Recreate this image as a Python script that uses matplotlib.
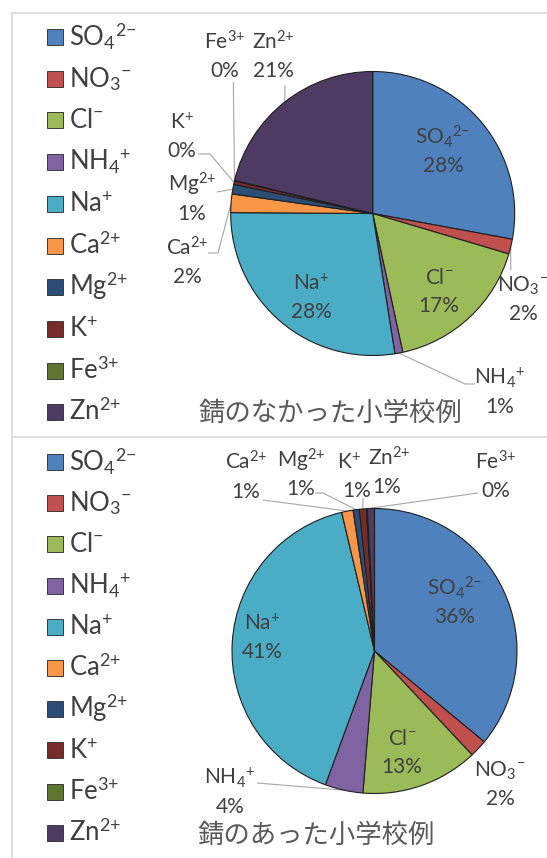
import matplotlib
matplotlib.use("Agg")
import matplotlib.pyplot as plt
from matplotlib.patches import Rectangle
import numpy as np

plt.rcParams["font.family"] = ["Lato", "DejaVu Sans"]
plt.rcParams["mathtext.fontset"] = "custom"
plt.rcParams["mathtext.rm"] = "Lato"
plt.rcParams["mathtext.it"] = "Lato:italic"
plt.rcParams["mathtext.bf"] = "Lato:bold"

# ---- data -------------------------------------------------------------
ions = ["SO$_4$$^{2{-}}$", "NO$_3$$^{{-}}$", "Cl$^{{-}}$", "NH$_4$$^{{+}}$", "Na$^{{+}}$",
        "Ca$^{2{+}}$", "Mg$^{2{+}}$", "K$^{{+}}$", "Fe$^{3{+}}$", "Zn$^{2{+}}$"]
ion_colors = ["#4F81BD", "#C0504D", "#9BBB59", "#8064A2", "#4BACC6",
              "#F79646", "#2C4D75", "#772C2A", "#5F7530", "#4D3B62"]

# ion composition (%) of deposits
no_rust_school = [27.9, 1.7, 17.0, 0.9, 27.6, 2.1, 1.1, 0.4, 0.05, 21.25]
rust_school = [36.0, 2.0, 13.3, 4.3, 40.7, 1.3, 0.7, 0.8, 0.1, 0.8]
titles = ["錆のなかった小学校例", "錆のあった小学校例"]

# ---- canvas (pixel units, y measured from the top) ---------------------
W, H = 547, 858
fig = plt.figure(figsize=(W / 100, H / 100), dpi=100)
ax = fig.add_axes([0, 0, 1, 1])


def Y(y):
    return H - y


TEXT = "#404040"
LEADER = "#A6A6A6"
FRAME = "#D9D9D9"

# label placement per wedge: (x, percent baseline, leader elbow points, name x shift)
panels = [
    dict(values=no_rust_school, title=titles[0], center=(372.7, 213.5), radius=142,
         legend_top=37, legend_step=41.7, title_xy=(330, 412),
         labels=[(443, 172, None, 0),
                 (523, 320, [(510.7, 270)], 0),
                 (439, 312, None, 0),
                 (500, 413, [(465, 384), (475, 384)], 0),
                 (311, 318, None, 0),
                 (187, 283, [(218, 253), (208, 253)], 0),
                 (192, 220, [(217, 192)], 0),
                 (182, 157, [(210, 154), (198, 154)], 0),
                 (225, 77, [(233.3, 82)], 0),
                 (273, 77, [(285, 85)], 0)]),
    dict(values=rust_school, title=titles[1], center=(374.5, 651), radius=142.5,
         legend_top=462, legend_step=41.2, title_xy=(316, 834),
         labels=[(455, 623, None, 0),
                 (500, 805, None, 0),
                 (402, 773, None, 0),
                 (230, 813, [(257, 783)], 0),
                 (262, 658, None, 0),
                 (246, 498, [(263, 500)], 0),
                 (301, 495, [(323, 493), (315, 493)], 0),
                 (357, 497, [(363, 498)], -8),
                 (496, 497, [(478, 493)], 0),
                 (387, 493, None, 2)]),
]

for p in panels:
    vals = np.asarray(p["values"], dtype=float)
    cx, cy = p["center"]
    wedges, _ = ax.pie(vals, colors=ion_colors, startangle=90, counterclock=False,
                       center=(cx, Y(cy)), radius=p["radius"], frame=True,
                       wedgeprops=dict(edgecolor="#1F1F1F", linewidth=0.8))
    for w in wedges:
        w.set_zorder(3)

    pct = vals / vals.sum() * 100
    for i, (w, (lx, lby, elbow, ndx)) in enumerate(zip(wedges, p["labels"])):
        mid = np.deg2rad((w.theta1 + w.theta2) / 2)
        ax_x = w.center[0] + w.r * np.cos(mid)
        ax_y = w.center[1] + w.r * np.sin(mid)
        if elbow:
            xs = [ax_x] + [e[0] for e in elbow]
            ys = [ax_y] + [Y(e[1]) for e in elbow]
            ax.plot(xs, ys, color=LEADER, lw=0.8, zorder=2, solid_capstyle="butt")
        ax.text(lx + ndx, Y(lby - 28), ions[i], ha="center", va="baseline",
                fontsize=15, color=TEXT, zorder=5)
        ax.text(lx, Y(lby), f"{pct[i]:.0f}%", ha="center", va="baseline",
                fontsize=15, color=TEXT, zorder=5)

    # legend column
    for i, (name, col) in enumerate(zip(ions, ion_colors)):
        yc = p["legend_top"] + i * p["legend_step"]
        ax.add_patch(Rectangle((46.5, Y(yc) - 8), 16, 16, facecolor=col,
                               edgecolor="#3A3A3A", lw=0.7, zorder=3))
        ax.text(69, Y(yc + 8), name, ha="left", va="baseline",
                fontsize=18.5, color=TEXT, zorder=5)

    tx, ty = p["title_xy"]
    ax.text(tx, Y(ty + 1), p["title"], ha="center", va="center", fontsize=19,
            color="#595959", family=["Noto Sans CJK JP", "DejaVu Sans"], zorder=5)

# panel frames
ax.plot([12, W], [Y(12.7), Y(12.7)], color=FRAME, lw=1.2, zorder=1)
ax.plot([12, 12], [Y(12.7), 0], color=FRAME, lw=1.2, zorder=1)
ax.plot([12, W], [Y(437), Y(437)], color=FRAME, lw=1.2, zorder=1)

ax.set_xlim(0, W)
ax.set_ylim(0, H)
ax.set_aspect("auto")
ax.axis("off")

fig.savefig("out.png", dpi=100, facecolor="white")
